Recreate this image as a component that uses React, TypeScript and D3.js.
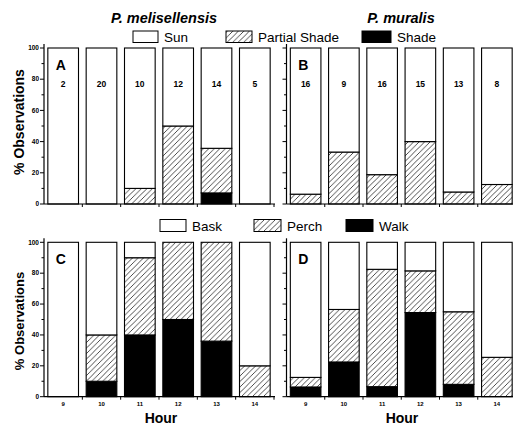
import React from "react";
import * as d3 from "d3";

const hours = ["9", "10", "11", "12", "13", "14"];
const yTicks = [0, 10, 20, 30, 40, 50, 60, 70, 80, 90, 100];

const sampleA = [2, 20, 10, 12, 14, 5];
const sampleB = [16, 9, 16, 15, 13, 8];

// Panel A: P. melisellensis microhabitat
const aShade = [0, 0, 0, 0, 7.1, 0];
const aPartial = [0, 0, 10, 50, 28.6, 0];
const aSun = [100, 100, 90, 50, 64.3, 100];
// Panel B: P. muralis microhabitat
const bShade = [0, 0, 0, 0, 0, 0];
const bPartial = [6.3, 33.3, 18.8, 40, 7.7, 12.5];
const bSun = [93.7, 66.7, 81.2, 60, 92.3, 87.5];
// Panel C: P. melisellensis behaviour
const cWalk = [0, 10, 40, 50, 36, 0];
const cPerch = [0, 30, 50, 50, 64, 20];
const cBask = [100, 60, 10, 0, 0, 80];
// Panel D: P. muralis behaviour
const dWalk = [6.3, 22.5, 6.5, 54.5, 8, 0];
const dPerch = [6.2, 34, 76, 27, 47, 25.5];
const dBask = [87.5, 43.5, 17.5, 18.5, 45, 74.5];

const FONT = "'Liberation Sans', Arial, Helvetica, sans-serif";
const fills = ["#000", "url(#hatch)", "#fff"];

type PanelProps = {
  x0: number;
  x1: number;
  yTop: number;
  yBottom: number;
  series: number[][]; // bottom to top
  letter: string;
  samples?: number[];
  showYLabels: boolean;
  showXLabels: boolean;
  axisEnd: number;
};

function Panel(p: PanelProps) {
  const x = d3.scaleBand<string>().domain(hours).range([p.x0, p.x1]).paddingInner(0.2).paddingOuter(0.1);
  const y = d3.scaleLinear().domain([0, 100]).range([p.yBottom, p.yTop]);
  const rows = hours.map((h, i) => {
    const o: any = { hour: h };
    p.series.forEach((s, k) => (o["s" + k] = s[i]));
    return o;
  });
  const stack = d3.stack<any>().keys(p.series.map((_, k) => "s" + k));
  const layers = stack(rows);
  const step = x.step();
  return (
    <g>
      {layers.map((layer, k) =>
        layer.map((d, i) => {
          const h = y(d[0]) - y(d[1]);
          if (h <= 0.01) return null;
          return (
            <rect
              key={k + "-" + i}
              x={x(hours[i])!}
              y={y(d[1])}
              width={x.bandwidth()}
              height={h}
              fill={fills[k]}
              stroke="#000"
              strokeWidth={1.1}
            />
          );
        })
      )}
      {/* y axis */}
      <line x1={p.x0} x2={p.x0} y1={p.yBottom} y2={p.yTop - 4} stroke="#000" strokeWidth={1.2} />
      {yTicks.map((t) => (
        <line
          key={"yt" + t}
          x1={p.x0 - (t % 20 === 0 ? 4 : 2.5)}
          x2={p.x0}
          y1={y(t)}
          y2={y(t)}
          stroke="#000"
          strokeWidth={1}
        />
      ))}
      {p.showYLabels &&
        yTicks
          .filter((t) => t % 20 === 0)
          .map((t) => (
            <text
              key={"yl" + t}
              x={p.x0 - 5}
              y={y(t) + 2.2}
              textAnchor="end"
              fontSize={6.5}
              fontWeight="bold"
              fontFamily={FONT}
            >
              {t}
            </text>
          ))}
      {/* x axis */}
      <line x1={p.x0} x2={p.axisEnd} y1={p.yBottom} y2={p.yBottom} stroke="#000" strokeWidth={1.2} />
      {d3.range(1, 7).map((k) => (
        <line
          key={"xt" + k}
          x1={p.x0 + k * step}
          x2={p.x0 + k * step}
          y1={p.yBottom}
          y2={p.yBottom + 3}
          stroke="#000"
          strokeWidth={1}
        />
      ))}
      {p.showXLabels &&
        hours.map((h) => (
          <text
            key={"xl" + h}
            x={x(h)! + x.bandwidth() / 2}
            y={p.yBottom + 9}
            textAnchor="middle"
            fontSize={6}
            fontWeight="bold"
            fontFamily={FONT}
          >
            {h}
          </text>
        ))}
      <text
        x={x(hours[0])! + 8}
        y={p.yTop + 22}
        fontSize={14}
        fontWeight="bold"
        fontFamily={FONT}
      >
        {p.letter}
      </text>
      {p.samples &&
        p.samples.map((n, i) => (
          <text
            key={"n" + i}
            x={x(hours[i])! + x.bandwidth() / 2}
            y={p.yTop + 38.5}
            textAnchor="middle"
            fontSize={8.5}
            fontWeight="bold"
            fontFamily={FONT}
          >
            {n}
          </text>
        ))}
    </g>
  );
}

function LegendItem({ x, y, w, h, fill, label }: { x: number; y: number; w: number; h: number; fill: string; label: string }) {
  return (
    <g>
      <rect x={x} y={y} width={w} height={h} fill={fill} stroke="#000" strokeWidth={1} />
      <text x={x + w + 6} y={y + h - 0.5} fontSize={13.5} fontFamily={FONT}>
        {label}
      </text>
    </g>
  );
}

export default function App() {
  const leftX0 = 44;
  const leftX1 = 274;
  const rightX0 = 286.5;
  const rightX1 = 516;
  return (
    <svg
      width={513}
      height={426}
      style={{ position: "absolute", left: 0, top: 0, background: "#fff", overflow: "hidden" }}
    >
      <defs>
        <pattern id="hatch" patternUnits="userSpaceOnUse" width={5.5} height={5.5}>
          <rect width={5.5} height={5.5} fill="#fff" />
          <path d="M-1,1 L1,-1 M0,5.5 L5.5,0 M4.5,6.5 L6.5,4.5" stroke="#000" strokeWidth={0.7} />
        </pattern>
      </defs>

      <text x={164} y={23} textAnchor="middle" fontSize={14.5} fontWeight="bold" fontStyle="italic" fontFamily={FONT}>
        P. melisellensis
      </text>
      <text x={401} y={23} textAnchor="middle" fontSize={14.5} fontWeight="bold" fontStyle="italic" fontFamily={FONT}>
        P. muralis
      </text>

      <LegendItem x={133} y={31} w={25} h={11.5} fill="#fff" label="Sun" />
      <LegendItem x={226} y={31} w={26} h={11.5} fill="url(#hatch)" label="Partial Shade" />
      <LegendItem x={362} y={31} w={29} h={11.5} fill="#000" label="Shade" />

      <LegendItem x={160} y={219.5} w={26} h={12} fill="#fff" label="Bask" />
      <LegendItem x={254} y={219.5} w={27} h={12} fill="url(#hatch)" label="Perch" />
      <LegendItem x={346} y={219.5} w={27} h={12} fill="#000" label="Walk" />

      <Panel
        x0={leftX0}
        x1={leftX1}
        yTop={48}
        yBottom={204}
        series={[aShade, aPartial, aSun]}
        letter="A"
        samples={sampleA}
        showYLabels={true}
        showXLabels={false}
        axisEnd={275}
      />
      <Panel
        x0={rightX0}
        x1={rightX1}
        yTop={48}
        yBottom={204}
        series={[bShade, bPartial, bSun]}
        letter="B"
        samples={sampleB}
        showYLabels={false}
        showXLabels={false}
        axisEnd={513}
      />
      <Panel
        x0={leftX0}
        x1={leftX1}
        yTop={242.3}
        yBottom={396.7}
        series={[cWalk, cPerch, cBask]}
        letter="C"
        showYLabels={true}
        showXLabels={true}
        axisEnd={275}
      />
      <Panel
        x0={rightX0}
        x1={rightX1}
        yTop={242.3}
        yBottom={396.7}
        series={[dWalk, dPerch, dBask]}
        letter="D"
        showYLabels={false}
        showXLabels={true}
        axisEnd={513}
      />

      <text
        transform="translate(24,122) rotate(-90)"
        textAnchor="middle"
        fontSize={14}
        fontWeight="bold"
        fontFamily={FONT}
      >
        % Observations
      </text>
      <text
        transform="translate(24,321) rotate(-90)"
        textAnchor="middle"
        fontSize={13}
        fontWeight="bold"
        fontFamily={FONT}
      >
        % Observations
      </text>

      <text x={161} y={423} textAnchor="middle" fontSize={14} fontWeight="bold" fontFamily={FONT}>
        Hour
      </text>
      <text x={402} y={423} textAnchor="middle" fontSize={14} fontWeight="bold" fontFamily={FONT}>
        Hour
      </text>
    </svg>
  );
}
